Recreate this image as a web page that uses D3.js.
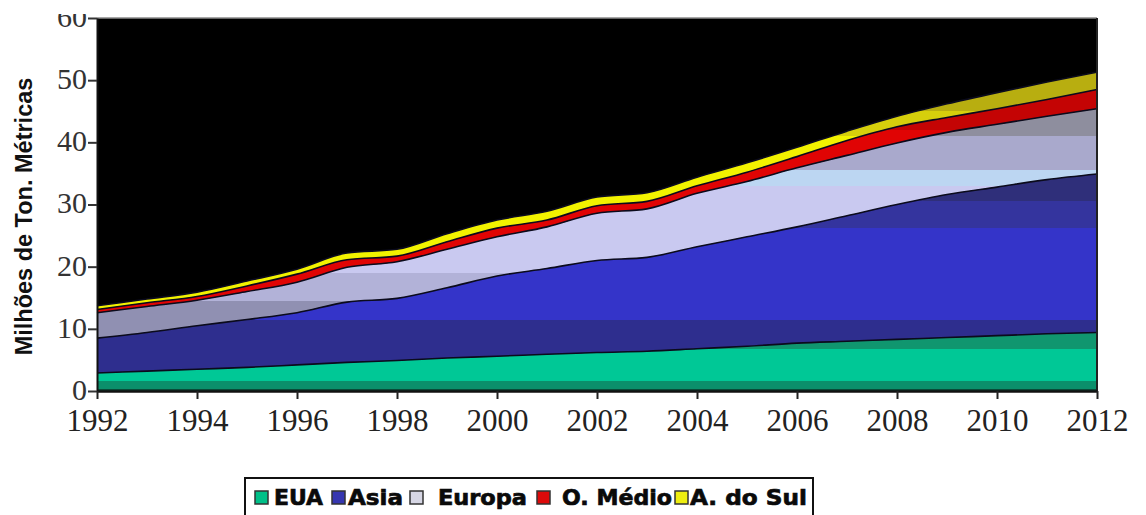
<!DOCTYPE html>
<html>
<head>
<meta charset="utf-8">
<script src="https://cdn.jsdelivr.net/npm/d3@7"></script>
<style>
  html, body { margin: 0; padding: 0; background: #fff; }
  svg { display: block; }
</style>
</head>
<body>
<svg id="chart" width="1146" height="515"></svg>
<script>
// Consumo por região, milhões de toneladas métricas (área empilhada)
const years   = [1992,1993,1994,1995,1996,1997,1998,1999,2000,2001,2002,2003,2004,2005,2006,2007,2008,2009,2010,2011,2012];
const eua     = [2.9, 3.2, 3.5, 3.8, 4.2, 4.6, 4.9, 5.3, 5.6, 5.9, 6.2, 6.4, 6.8, 7.2, 7.7, 8.0, 8.3, 8.6, 8.9, 9.2, 9.4];
const asia    = [5.6, 6.2, 7.0, 7.7, 8.4, 9.7, 10.0, 11.3, 12.9, 13.8, 14.8, 15.1, 16.4, 17.6, 18.7, 20.2, 21.7, 23.0, 23.9, 24.8, 25.5];
const europa  = [4.1, 4.2, 4.1, 4.5, 4.9, 5.6, 5.9, 6.2, 6.3, 6.7, 7.6, 7.8, 8.6, 8.9, 9.5, 9.7, 9.9, 10.0, 10.1, 10.2, 10.5];
const oMedio  = [0.5, 0.6, 0.6, 0.9, 1.3, 1.2, 0.9, 1.2, 1.4, 1.1, 1.2, 1.2, 1.2, 1.5, 1.8, 2.4, 2.6, 2.4, 2.5, 2.7, 3.1];
const aDoSul  = [0.6, 0.6, 0.7, 0.8, 0.8, 1.1, 1.1, 1.3, 1.3, 1.4, 1.4, 1.4, 1.4, 1.5, 1.5, 1.5, 1.7, 2.2, 2.6, 2.8, 2.8];

const seriesKeys   = ["EUA", "Asia", "Europa", "O. Médio", "A. do Sul"];
const seriesValues = [eua, asia, europa, oMedio, aDoSul];
const yTicks = [0, 10, 20, 30, 40, 50, 60];
const xTicks = [1992, 1994, 1996, 1998, 2000, 2002, 2004, 2006, 2008, 2010, 2012];
const yTitle = "Milhões de Ton. Métricas";

const rows = years.map((yr, i) => {
  const r = { year: yr };
  seriesKeys.forEach((k, j) => { r[k] = seriesValues[j][i]; });
  return r;
});

const svg = d3.select("#chart");
const plot = { left: 97, right: 1097, top: 18, bottom: 391 };

const x = d3.scaleLinear().domain([1992, 2012]).range([plot.left, plot.right]);
const y = d3.scaleLinear().domain([0, 60]).range([plot.bottom, plot.top]);

// banded fills, fixed to the value axis
const defs = svg.append("defs");
function bandGradient(id, bands) {
  const g = defs.append("linearGradient").attr("id", id)
    .attr("gradientUnits", "userSpaceOnUse")
    .attr("x1", 0).attr("x2", 0).attr("y1", y(0)).attr("y2", y(60));
  bands.forEach(([v0, v1, c]) => {
    g.append("stop").attr("offset", v0 / 60).attr("stop-color", c);
    g.append("stop").attr("offset", v1 / 60).attr("stop-color", c);
  });
}
bandGradient("g-eua", [[0, 0.3, "#0a4a38"], [0.3, 1.6, "#0b8f6b"], [1.6, 6.7, "#00c896"], [6.7, 60, "#10966f"]]);
bandGradient("g-asia", [[0, 11.5, "#2e2e8e"], [11.5, 26.3, "#3434c9"], [26.3, 30.5, "#34349e"], [30.5, 60, "#2f2f7a"]]);
bandGradient("g-europa", [[0, 14.5, "#9090b2"], [14.5, 19, "#b2b2d8"], [19, 33, "#c9c9f0"], [33, 35.5, "#bcd6f2"], [35.5, 41, "#a9a9cc"], [41, 60, "#8e8e9e"]]);
bandGradient("g-om", [[0, 42, "#e00404"], [42, 60, "#c40404"]]);
bandGradient("g-as", [[0, 41, "#f2f200"], [41, 45, "#d6cf0c"], [45, 60, "#b8ae10"]]);
const fills = ["url(#g-eua)", "url(#g-asia)", "url(#g-europa)", "url(#g-om)", "url(#g-as)"];

// plot background
svg.append("rect")
  .attr("x", plot.left).attr("y", plot.top)
  .attr("width", plot.right - plot.left).attr("height", plot.bottom - plot.top)
  .attr("fill", "#000");

const stack = d3.stack().keys(seriesKeys);
const layers = stack(rows);

const area = d3.area()
  .x(d => x(d.data.year))
  .y0(d => y(d[0]))
  .y1(d => y(d[1]))
  .curve(d3.curveMonotoneX);

const topLine = d3.line()
  .x(d => x(d.data.year))
  .y(d => y(d[1]))
  .curve(d3.curveMonotoneX);

svg.append("g").selectAll("path")
  .data(layers)
  .join("path")
  .attr("d", area)
  .attr("fill", (d, i) => fills[i]);

svg.append("g").selectAll("path")
  .data(layers)
  .join("path")
  .attr("d", topLine)
  .attr("fill", "none")
  .attr("stroke", "#0b0b1c")
  .attr("stroke-width", 1.6);

// frame: top and right edges
svg.append("line")
  .attr("x1", plot.left).attr("x2", plot.right)
  .attr("y1", plot.top).attr("y2", plot.top)
  .attr("stroke", "#8a8a8a").attr("stroke-width", 1.5);
svg.append("line")
  .attr("x1", plot.right).attr("x2", plot.right)
  .attr("y1", plot.top).attr("y2", plot.bottom)
  .attr("stroke", "#222").attr("stroke-width", 2);

// axes
const yAxis = svg.append("g")
  .attr("transform", `translate(${plot.left},0)`)
  .call(d3.axisLeft(y).tickValues(yTicks).tickSize(9).tickPadding(1).tickSizeOuter(0));
yAxis.select(".domain").attr("stroke", "#111").attr("stroke-width", 2);
yAxis.selectAll(".tick line").attr("stroke", "#333").attr("stroke-width", 2);
yAxis.selectAll(".tick text")
  .attr("font-family", "'Liberation Serif', 'Times New Roman', serif")
  .attr("font-size", 30).attr("fill", "#333")
  .attr("dy", "0.28em");

const xAxis = svg.append("g")
  .attr("transform", `translate(0,${plot.bottom})`)
  .call(d3.axisBottom(x).tickValues(xTicks).tickFormat(d3.format("d")).tickSize(8).tickPadding(10).tickSizeOuter(0));
xAxis.select(".domain").attr("stroke", "#111").attr("stroke-width", 2.5);
xAxis.selectAll(".tick line").attr("stroke", "#222").attr("stroke-width", 2);
xAxis.selectAll(".tick text")
  .attr("font-family", "'Liberation Serif', 'Times New Roman', serif")
  .attr("font-size", 31).attr("fill", "#222");

// the top of the "60" label runs off the page edge
svg.append("rect").attr("x", 0).attr("y", 0).attr("width", plot.left - 2).attr("height", 14).attr("fill", "#fff");

// y-axis title
svg.append("text")
  .attr("transform", `translate(32,${(plot.top + plot.bottom) / 2 + 12}) rotate(-90)`)
  .attr("text-anchor", "middle")
  .attr("font-family", "'Liberation Sans', Arial, sans-serif")
  .attr("font-weight", "bold")
  .attr("font-size", 23.5)
  .attr("fill", "#111")
  .text(yTitle);

// legend
const legendColors = ["#00c088", "#3636b0", "#d6d6e4", "#dd0a0a", "#eeee10"];
const legendLayout = [
  { sq: 255, tx: 274, w: 49 },
  { sq: 332, tx: 348, w: 55 },
  { sq: 410, tx: 438, w: 89 },
  { sq: 537, tx: 562, w: 110 },
  { sq: 675, tx: 690, w: 117 }
];
const legend = svg.append("g");
legend.append("rect")
  .attr("x", 245).attr("y", 478).attr("width", 568).attr("height", 60)
  .attr("fill", "#fff").attr("stroke", "#111").attr("stroke-width", 2);
seriesKeys.forEach((k, i) => {
  const L = legendLayout[i];
  legend.append("rect")
    .attr("x", L.sq).attr("y", 491).attr("width", 13).attr("height", 13)
    .attr("fill", legendColors[i]).attr("stroke", "#333").attr("stroke-width", 1.5);
  legend.append("text")
    .attr("x", L.tx).attr("y", 505)
    .attr("font-family", "'DejaVu Sans', Verdana, sans-serif")
    .attr("font-weight", "bold").attr("font-size", 22)
    .attr("textLength", L.w).attr("lengthAdjust", "spacingAndGlyphs")
    .attr("fill", "#0a0a0a")
    .attr("stroke", "#0a0a0a").attr("stroke-width", 0.7)
    .text(k);
});
</script>
</body>
</html>
